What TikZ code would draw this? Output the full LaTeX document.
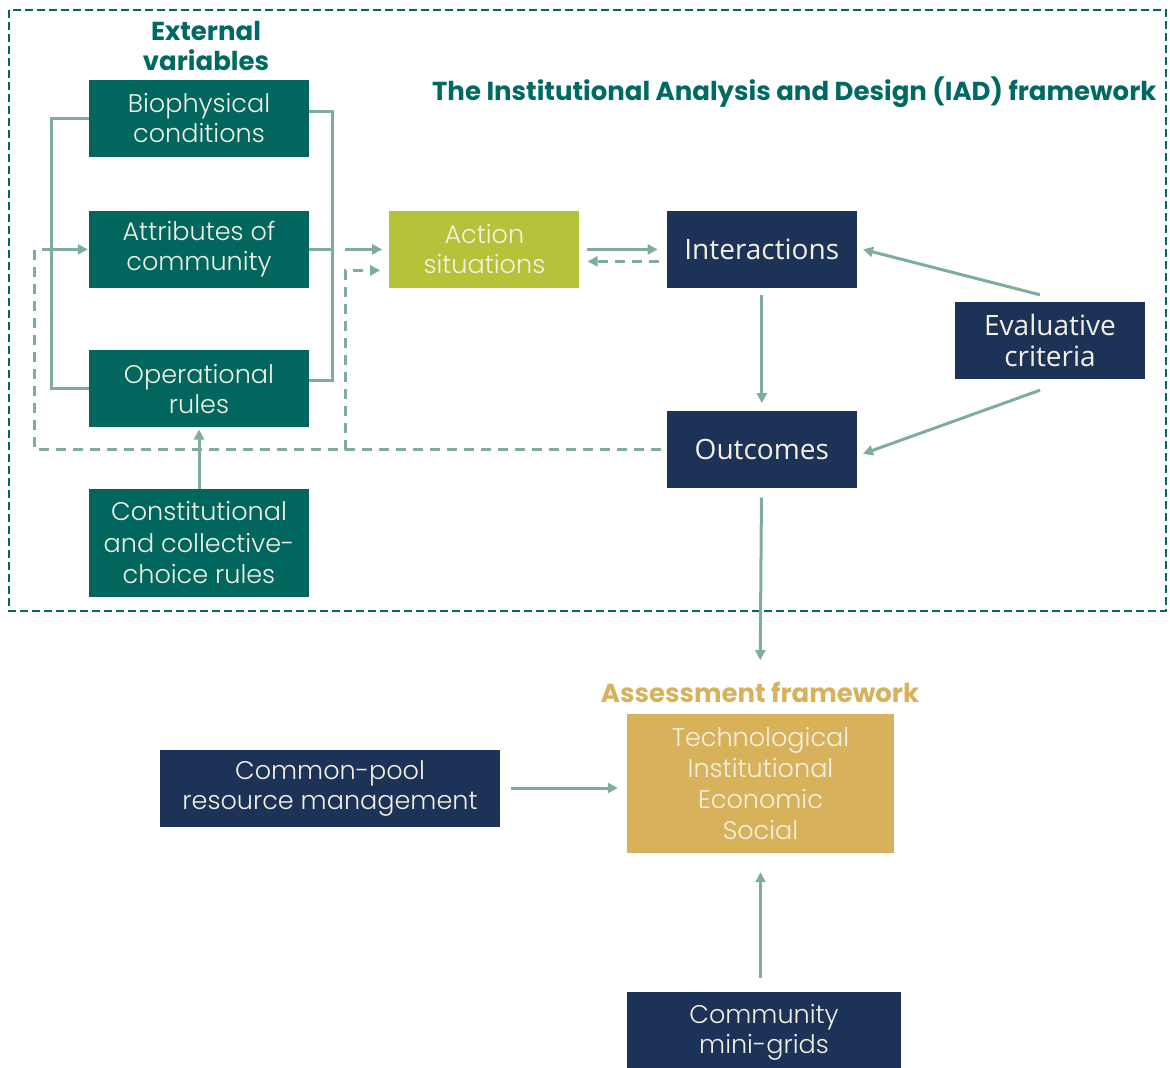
\documentclass[tikz,border=0pt]{standalone}
\usepackage{fontspec}
\setmainfont{Poppins}
\newfontfamily\lightfont{Poppins Light}
\newfontfamily\navyfont{Open Sans}
\usetikzlibrary{arrows.meta, positioning}

\definecolor{iadteal}{HTML}{00665E}
\definecolor{frameteal}{HTML}{006A62}
\definecolor{actlime}{HTML}{B5C33A}
\definecolor{navy}{HTML}{1C3357}
\definecolor{assgold}{HTML}{D8B15B}
\definecolor{linkgrey}{HTML}{80AC9F}
\definecolor{boxtext}{HTML}{F4F1E4}

\begin{document}
\begin{tikzpicture}[x=1pt, y=-1pt, >={Triangle[length=10pt,width=10pt]}]

	\tikzset{
		box/.style={
				rectangle, inner sep=0pt, text=boxtext, align=center, minimum height=77pt, font=\lightfont\fontsize{25.5}{30}\selectfont
			},
		tealbox/.style={box, fill=iadteal, minimum width=220pt},
		navybox/.style={box, fill=navy, minimum width=190pt, font=\navyfont\fontsize{28}{31}\selectfont},
		heading/.style={font=\bfseries\fontsize{26}{30}\selectfont, text=frameteal, align=center},
		link/.style={draw=linkgrey, line width=3pt},
		fb/.style={link, dash pattern=on 10pt off 7pt},
	}
	\useasboundingbox (0,0) rectangle (1170,1068);

	% IAD framework frame
	\draw[frameteal, line width=2.5pt, dash pattern=on 8pt off 4pt] (9,10) rectangle (1166,611);

	\node[heading](extvar) at (206,46){External\\variables};
	\node[heading, anchor=east](iadtitle) at (1160,92){The Institutional Analysis and Design (IAD) framework};

	\node[tealbox](bio) at (199,118){Biophysical\\conditions};
	\node[tealbox, below=54pt of bio](attr){Attributes of\\community};
	\node[tealbox, below=62pt of attr](oper){Operational\\rules};
	\node[tealbox, below=61pt of oper, minimum height=108pt, font=\lightfont\fontsize{25.5}{31.5}\selectfont](const){Constitutional\\and collective-\\choice rules};

	\node[box, fill=actlime, minimum width=190pt, right=80pt of attr](action){Action\\situations};
	\node[navybox, right=87pt of action](inter){Interactions};
	\node[navybox, below=123pt of inter](outc){Outcomes};
	\node[navybox](eval) at (1050,340.5){Evaluative\\criteria};

	% assessment part
	\node[heading, text=assgold](asslab) at (760,692){Assessment framework};
	\node[box, fill=assgold, minimum width=267pt, minimum height=139pt, font=\lightfont\fontsize{25.5}{31}\selectfont](assess) at (760.5,783.5){Technological\\Institutional\\Economic\\Social};
	\node[box, fill=navy, minimum width=340pt](cpr) at (330,788){Common-pool\\resource management};
	\node[box, fill=navy, minimum width=274pt, minimum height=80pt](cmg) at (764,1032){Community\\mini-grids};

	\coordinate[left=37pt of attr](lbar);
	\coordinate[right=23pt of attr](rbar);
	\coordinate[left=54pt of attr](fbc);
	\coordinate (fbk) at ([xshift=13pt]rbar |- outc);

	% external variables into the action arena
	\draw[link] (bio.west) -| (lbar) |- (oper.west);
	\draw[link, ->, shorten >=1pt] (lbar) -- (attr.west);
	\draw[link] ([yshift=7pt]bio.east) -| (rbar) |- ([yshift=8pt]oper.east);
	\draw[link] (attr.east) -- (rbar);
	\draw[link, ->, shorten >=7pt] ([xshift=13pt]rbar) -- (action.west);
	\draw[link, ->, shorten >=2pt] (const) -- (oper);

	% feedback from outcomes
	\draw[fb] ([xshift=-6pt]outc.west) -| (fbc) -- (lbar);
	\draw[fb, ->, shorten >=9pt] (fbk) |- ([yshift=-21pt]action.west);

	\draw[link, ->, shorten <=7pt, shorten >=9pt] (action.east) -- (inter.west);
	\draw[fb, ->, shorten <=8pt, shorten >=8pt] ([yshift=-12pt]inter.west) -- ([yshift=-12pt]action.east);
	\draw[link, ->, shorten <=7pt, shorten >=8pt] (inter) -- (outc);
	\draw[link, ->] ([xshift=-10pt, yshift=7pt]eval.north) -- ([xshift=6pt]inter.east);
	\draw[link, ->] ([xshift=-10pt, yshift=-11pt]eval.south) -- ([xshift=6pt, yshift=-4pt]outc.east);

	\draw[link, ->, shorten <=9pt, shorten >=18pt] (outc) -- (asslab);
	\draw[link, ->, shorten <=11pt, shorten >=9pt] (cpr.east) -- (cpr.east -| assess.west);
	\draw[link, ->, shorten <=14pt, shorten >=19pt] (cmg.north -| assess.south) -- (assess.south);

\end{tikzpicture}
\end{document}
